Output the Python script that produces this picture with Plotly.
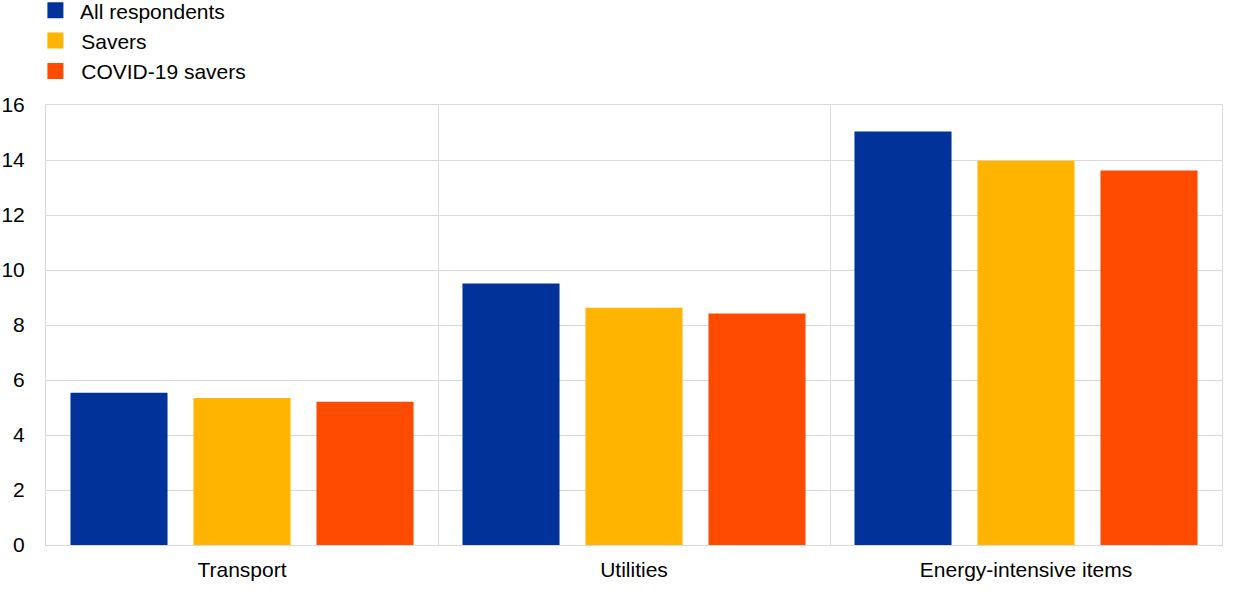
import plotly.graph_objects as go

categories = ["Transport", "Utilities", "Energy-intensive items"]
series_names = ["All respondents", "Savers", "COVID-19 savers"]
all_respondents = [5.54, 9.51, 15.04]
savers = [5.35, 8.63, 13.97]
covid_savers = [5.21, 8.42, 13.62]
colors = ["#003299", "#ffb400", "#ff4b00"]
y_ticks = [0, 2, 4, 6, 8, 10, 12, 14, 16]

fig = go.Figure()
for name, vals, col in zip(series_names, [all_respondents, savers, covid_savers], colors):
    fig.add_trace(go.Bar(x=categories, y=vals, name=name, marker=dict(color=col, line=dict(width=0)),
                         showlegend=False, legendgroup=name))
for name, col in zip(series_names, colors):
    fig.add_trace(go.Scatter(x=[None], y=[None], mode="markers", name=" " + name, legendgroup=name,
                             marker=dict(symbol="square", size=16, color=col)))

fig.update_layout(
    width=1240, height=602,
    margin=dict(l=46, r=18, t=105, b=57, autoexpand=False),
    paper_bgcolor="white", plot_bgcolor="white",
    font=dict(family="Liberation Sans, Arial, sans-serif", size=21, color="black"),
    barmode="group", bargap=0.0587, bargroupgap=0.211,
    legend=dict(x=-0.009, y=1.261, xanchor="left", yanchor="top", font=dict(size=21),
                bgcolor="rgba(0,0,0,0)", tracegroupgap=0, itemwidth=30),
    showlegend=True,
)
fig.update_xaxes(type="category", tickson="boundaries", showgrid=True, gridcolor="#d9d9d9", gridwidth=1,
                 showline=True, linecolor="#d9d9d9", linewidth=1, mirror=True, ticks="",
                 ticklabelstandoff=6, automargin=False)
fig.update_yaxes(range=[0, 16], tickvals=y_ticks, showgrid=True, gridcolor="#d9d9d9", gridwidth=1,
                 showline=True, linecolor="#d9d9d9", linewidth=1, mirror=True, ticks="",
                 zeroline=False, ticklabelstandoff=16, automargin=False)

fig.write_html("out.html", config={"displayModeBar": False},
               post_script="document.body.style.margin='0';")
